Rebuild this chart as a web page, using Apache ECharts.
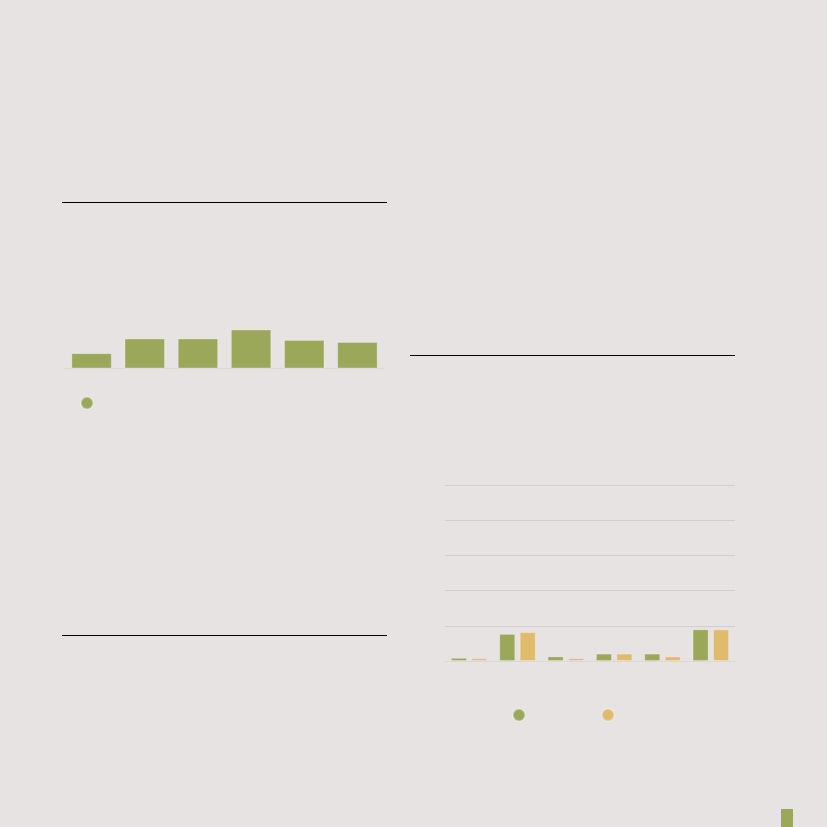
<!DOCTYPE html>
<html>
<head>
<meta charset="utf-8">
<script src="https://cdn.jsdelivr.net/npm/echarts@6/dist/echarts.min.js"></script>
<style>
html,body{margin:0;padding:0;background:#e7e3e2;}
#c{width:827px;height:827px;}
</style>
</head>
<body>
<div id="c"></div>
<script>
// Chart A (top-left)
const catsA = ['A1','A2','A3','A4','A5','A6'];
const valsA = [15.3, 29.8, 29.8, 38.8, 28.5, 26.5];
const seriesNameA = 'A';

// Chart B (bottom-right)
const catsB = ['B1','B2','B3','B4','B5','B6'];
const valsB1 = [0.09, 0.77, 0.13, 0.21, 0.21, 0.90];
const valsB2 = [0.08, 0.82, 0.08, 0.21, 0.13, 0.90];
const seriesNamesB = ['B1', 'B2'];
const yTicksB = [0, 1, 2, 3, 4, 5];

const GREEN = '#9ba85a';
const YELLOW = '#e0bb6c';

const chart = echarts.init(document.getElementById('c'), null, {renderer:'canvas'});
chart.setOption({
  backgroundColor: '#e7e3e2',
  animation: false,
  grid: [
    {left: 65, right: 443, top: 228, bottom: 458.5},
    {left: 445, right: 92, top: 485, bottom: 166}
  ],
  xAxis: [
    {gridIndex: 0, type: 'category', data: catsA,
     axisLine: {show: true, lineStyle: {color: '#dcd8d6', width: 1}},
     axisTick: {show: false}, axisLabel: {show: false}},
    {gridIndex: 1, type: 'category', data: catsB,
     axisLine: {show: true, lineStyle: {color: '#dcd8d6', width: 1}},
     axisTick: {show: false}, axisLabel: {show: false}}
  ],
  yAxis: [
    {gridIndex: 0, type: 'value', min: 0, max: 140,
     axisLine: {show: false}, axisTick: {show: false}, axisLabel: {show: false},
     splitLine: {show: false}},
    {gridIndex: 1, type: 'value', min: yTicksB[0], max: yTicksB[yTicksB.length-1], interval: 1,
     axisLine: {show: false}, axisTick: {show: false}, axisLabel: {show: false},
     splitLine: {show: true, lineStyle: {color: '#d2cecd', width: 1}}}
  ],
  legend: [
    {data: [seriesNameA], left: 80, top: 396, padding: 0, icon: 'circle',
     itemWidth: 12, itemHeight: 12, formatter: () => '', selectedMode: false},
    {data: [seriesNamesB[0]], left: 512, top: 708, padding: 0, icon: 'circle',
     itemWidth: 12, itemHeight: 12, formatter: () => '', selectedMode: false},
    {data: [seriesNamesB[1]], left: 601, top: 708, padding: 0, icon: 'circle',
     itemWidth: 12, itemHeight: 12, formatter: () => '', selectedMode: false}
  ],
  series: [
    {name: seriesNameA, type: 'bar', xAxisIndex: 0, yAxisIndex: 0, data: valsA,
     barCategoryGap: '24%',
     itemStyle: {color: GREEN, borderColor: 'rgba(255,255,255,0.25)', borderWidth: 1}},
    {name: seriesNamesB[0], type: 'bar', xAxisIndex: 1, yAxisIndex: 1, data: valsB1,
     barWidth: 16, barGap: '28%',
     itemStyle: {color: GREEN, borderColor: 'rgba(255,255,255,0.25)', borderWidth: 1}},
    {name: seriesNamesB[1], type: 'bar', xAxisIndex: 1, yAxisIndex: 1, data: valsB2,
     barWidth: 16, barGap: '28%',
     itemStyle: {color: YELLOW, borderColor: 'rgba(255,255,255,0.25)', borderWidth: 1}}
  ],
  graphic: [
    {type: 'line', shape: {x1: 62, y1: 202.5, x2: 387, y2: 202.5}, style: {stroke: '#000', lineWidth: 1.2}},
    {type: 'line', shape: {x1: 62, y1: 635.5, x2: 387, y2: 635.5}, style: {stroke: '#000', lineWidth: 1.2}},
    {type: 'line', shape: {x1: 410, y1: 355.5, x2: 735, y2: 355.5}, style: {stroke: '#000', lineWidth: 1.2}},
    {type: 'rect', shape: {x: 781, y: 809, width: 12, height: 18}, style: {fill: GREEN}}
  ]
});
</script>
</body>
</html>
